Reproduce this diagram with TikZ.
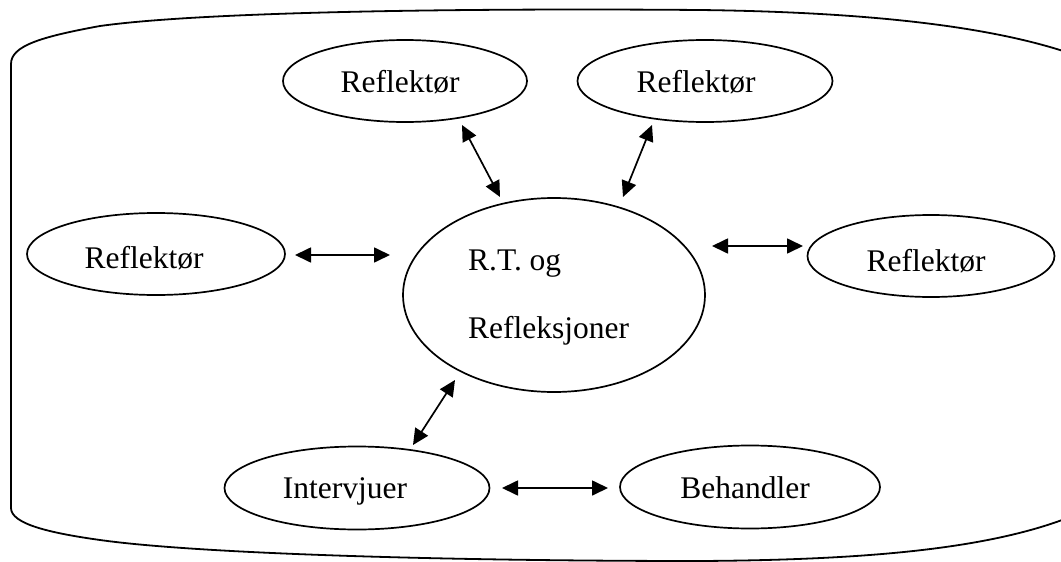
\documentclass[tikz,border=0pt]{standalone}
\usepackage{fontspec}
\setmainfont{Liberation Serif}
\usetikzlibrary{shapes.geometric,arrows.meta}
\begin{document}
\begin{tikzpicture}[x=1pt,y=-1pt,
  oval/.style={ellipse, draw, line width=1.7pt, inner sep=0pt},
  lbl/.style={anchor=base, inner sep=0pt, font=\fontsize{31.5}{36}\selectfont},
  dbl/.style={line width=1.7pt, {Triangle[length=16pt,width=15pt]}-{Triangle[length=16pt,width=15pt]}},
  frame/.style={line width=1.8pt}]
\useasboundingbox (0,0) rectangle (1061,562);
\clip (0,0) rectangle (1061,562);
% outer frame
\draw[frame] (11,508) -- (11,64)
  .. controls (11,46) and (40,37) .. (100,26)
  .. controls (200,12) and (450,8) .. (700,10)
  .. controls (860,12) and (990,25) .. (1075,55);
\draw[frame] (11,508)
  .. controls (11,524) and (50,533) .. (100,540)
  .. controls (200,554) and (450,561) .. (700,561)
  .. controls (860,560) and (990,550) .. (1075,515);
% ellipses
\node[oval, minimum width=244, minimum height=82] (r1) at (405,81) {};
\node[oval, minimum width=255, minimum height=82] (r2) at (705,81) {};
\node[oval, minimum width=258, minimum height=82] (r3) at (156,254) {};
\node[oval, minimum width=247, minimum height=82] (r4) at (931,256) {};
\node[oval, minimum width=302, minimum height=194] (rt) at (554,295) {};
\node[oval, minimum width=265, minimum height=83] (iv) at (357,488) {};
\node[oval, minimum width=260, minimum height=83] (bh) at (750,487) {};
% texts
\node[lbl] (t1) at (400,92) {Reflektør};
\node[lbl] (t2) at (696,92) {Reflektør};
\node[lbl] (t3) at (144,268) {Reflektør};
\node[lbl] (t4) at (926,271) {Reflektør};
\node[lbl, anchor=base west] (t5) at (468,270) {R.T. og};
\node[lbl, anchor=base west] (t6) at (468,338) {Refleksjoner};
\node[lbl] (t7) at (345,498) {Intervjuer};
\node[lbl] (t8) at (745,498) {Behandler};
% arrow end points
\coordinate (a1s) at (295,255); \coordinate (a1e) at (390,255);
\coordinate (a2s) at (712,246); \coordinate (a2e) at (803,246);
\coordinate (a3s) at (462,125); \coordinate (a3e) at (500,197);
\coordinate (a4s) at (652,125); \coordinate (a4e) at (623,197);
\coordinate (a5s) at (455,380); \coordinate (a5e) at (413,445);
\coordinate (a6s) at (502,488); \coordinate (a6e) at (608,488);
\draw[dbl] (a1s) -- (a1e);
\draw[dbl] (a2s) -- (a2e);
\draw[dbl] (a3s) -- (a3e);
\draw[dbl] (a4s) -- (a4e);
\draw[dbl] (a5s) -- (a5e);
\draw[dbl] (a6s) -- (a6e);
\end{tikzpicture}
\end{document}
